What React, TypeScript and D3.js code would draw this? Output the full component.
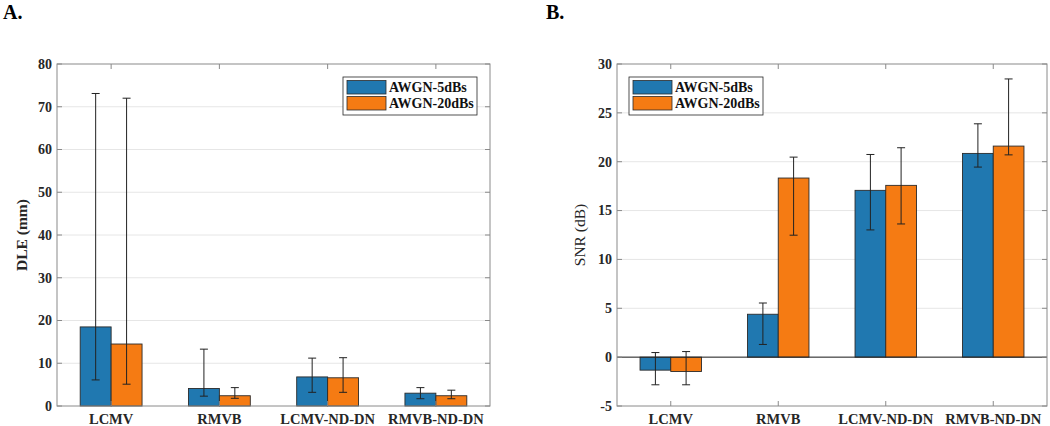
import React from "react";
import * as d3 from "d3";

const categories = ["LCMV", "RMVB", "LCMV-ND-DN", "RMVB-ND-DN"];
const seriesNames = ["AWGN-5dBs", "AWGN-20dBs"];
const colors = ["#2078b0", "#f57b13"];

// Panel A: DLE (mm)
const dleMean5 = [18.5, 4.1, 6.8, 3.0];
const dleLow5 = [6.1, 2.3, 3.2, 1.7];
const dleHigh5 = [73.1, 13.3, 11.2, 4.3];
const dleMean20 = [14.5, 2.4, 6.6, 2.4];
const dleLow20 = [5.1, 1.8, 3.2, 1.7];
const dleHigh20 = [72.0, 4.3, 11.3, 3.7];
const dleTicks = [0, 10, 20, 30, 40, 50, 60, 70, 80];

// Panel B: SNR (dB)
const snrMean5 = [-1.33, 4.39, 17.07, 20.85];
const snrLow5 = [-2.83, 1.3, 13.02, 19.45];
const snrHigh5 = [0.47, 5.54, 20.74, 23.88];
const snrMean20 = [-1.47, 18.33, 17.58, 21.6];
const snrLow20 = [-2.83, 12.48, 13.63, 20.7];
const snrHigh20 = [0.57, 20.47, 21.43, 28.47];
const snrTicks = [-5, 0, 5, 10, 15, 20, 25, 30];

const FONT = "'Liberation Serif', 'Times New Roman', serif";

type PanelProps = {
  x0: number; x1: number; y0: number; y1: number;
  domain: [number, number];
  ticks: number[];
  means: number[][];
  lows: number[][];
  highs: number[][];
  ylabel: string;
  ylabelBold: boolean;
  ylabelX: number;
  title: string;
  titleX: number;
  legendX: number; legendY: number; legendW: number; legendH: number;
  baseline: boolean;
};

function Panel(p: PanelProps) {
  const y = d3.scaleLinear().domain(p.domain).range([p.y1, p.y0]);
  const x = d3.scaleLinear().domain([0.5, 4.5]).range([p.x0, p.x1]);
  const unit = x(1) - x(0);
  const groupW = 2 / 3.5;
  const barW = (groupW / 2) * unit;
  const capHalf = 4;
  const y0v = y(0);
  const elems: React.ReactNode[] = [];
  categories.forEach((c, i) => {
    const cx = x(i + 1);
    [0, 1].forEach((s) => {
      const left = cx - barW + s * barW;
      const v = p.means[s][i];
      const top = Math.min(y(v), y0v);
      const h = Math.abs(y(v) - y0v);
      elems.push(
        <rect key={`b${i}${s}`} x={left} y={top} width={barW} height={h}
          fill={colors[s]} stroke="#2b2b2b" strokeWidth={0.9} />
      );
    });
  });
  const errs: React.ReactNode[] = [];
  categories.forEach((c, i) => {
    const cx = x(i + 1);
    [0, 1].forEach((s) => {
      const ex = cx - barW / 2 + s * barW;
      const lo = y(p.lows[s][i]);
      const hi = y(p.highs[s][i]);
      errs.push(
        <g key={`e${i}${s}`} stroke="#222" strokeWidth={1}>
          <line x1={ex} x2={ex} y1={lo} y2={hi} />
          <line x1={ex - capHalf} x2={ex + capHalf} y1={lo} y2={lo} />
          <line x1={ex - capHalf} x2={ex + capHalf} y1={hi} y2={hi} />
        </g>
      );
    });
  });
  const tl = 5;
  return (
    <g fontFamily={FONT}>
      <text x={p.titleX} y={19} fontSize={20} fontWeight="bold">{p.title}</text>
      {p.ticks.filter((t) => t !== p.domain[0] && t !== p.domain[1]).map((t) => (
        <line key={`g${t}`} x1={p.x0} x2={p.x1} y1={y(t)} y2={y(t)} stroke="#e6e6e6" strokeWidth={1} />
      ))}
      {elems}
      {p.baseline && <line x1={p.x0} x2={p.x1} y1={y0v} y2={y0v} stroke="#222" strokeWidth={1} />}
      {errs}
      <rect x={p.x0} y={p.y0} width={p.x1 - p.x0} height={p.y1 - p.y0} fill="none" stroke="#8a8a8a" strokeWidth={1} />
      {p.ticks.map((t) => (
        <g key={`t${t}`}>
          <line x1={p.x0} x2={p.x0 + tl} y1={y(t)} y2={y(t)} stroke="#8a8a8a" />
          <line x1={p.x1} x2={p.x1 - tl} y1={y(t)} y2={y(t)} stroke="#8a8a8a" />
          <text x={p.x0 - 5} y={y(t)} dy="0.35em" textAnchor="end" fontSize={14} fontWeight="bold" fill="#262626">{t}</text>
        </g>
      ))}
      {categories.map((c, i) => (
        <g key={`x${i}`}>
          <line x1={x(i + 1)} x2={x(i + 1)} y1={p.y1} y2={p.y1 - tl} stroke="#8a8a8a" />
          <line x1={x(i + 1)} x2={x(i + 1)} y1={p.y0} y2={p.y0 + tl} stroke="#8a8a8a" />
          <text x={x(i + 1)} y={424} textAnchor="middle" fontSize={14.5} fontWeight="bold" fill="#262626">{c}</text>
        </g>
      ))}
      <text transform={`translate(${p.ylabelX},${(p.y0 + p.y1) / 2}) rotate(-90)`} textAnchor="middle"
        fontSize={15.5} fontWeight={p.ylabelBold ? "bold" : "normal"} fill="#262626">{p.ylabel}</text>
      <g>
        <rect x={p.legendX} y={p.legendY} width={p.legendW} height={p.legendH} fill="#fff" stroke="#262626" strokeWidth={0.8} />
        {seriesNames.map((n, s) => (
          <g key={n}>
            <rect x={p.legendX + 4} y={p.legendY + 3.5 + s * 16} width={39} height={13.5} fill={colors[s]} stroke="#2b2b2b" strokeWidth={0.8} />
            <text x={p.legendX + 46} y={p.legendY + 10.5 + s * 16} dy="0.35em" fontSize={14} fontWeight="bold" fill="#111">{n}</text>
          </g>
        ))}
      </g>
    </g>
  );
}

export default function App() {
  return (
    <svg width={1050} height={426} style={{ position: "absolute", left: 0, top: 0, background: "#fff" }}>
      <rect width={1050} height={426} fill="#fff" />
      <Panel x0={57} x1={490} y0={64} y1={406} domain={[0, 80]} ticks={dleTicks}
        means={[dleMean5, dleMean20]} lows={[dleLow5, dleLow20]} highs={[dleHigh5, dleHigh20]}
        ylabel="DLE (mm)" ylabelBold={true} ylabelX={27} title="A." titleX={3}
        legendX={343} legendY={77} legendW={134} legendH={38} baseline={false} />
      <Panel x0={617} x1={1047} y0={64} y1={406} domain={[-5, 30]} ticks={snrTicks}
        means={[snrMean5, snrMean20]} lows={[snrLow5, snrLow20]} highs={[snrHigh5, snrHigh20]}
        ylabel="SNR (dB)" ylabelBold={false} ylabelX={585} title="B." titleX={546}
        legendX={629} legendY={77} legendW={134} legendH={38} baseline={true} />
    </svg>
  );
}
